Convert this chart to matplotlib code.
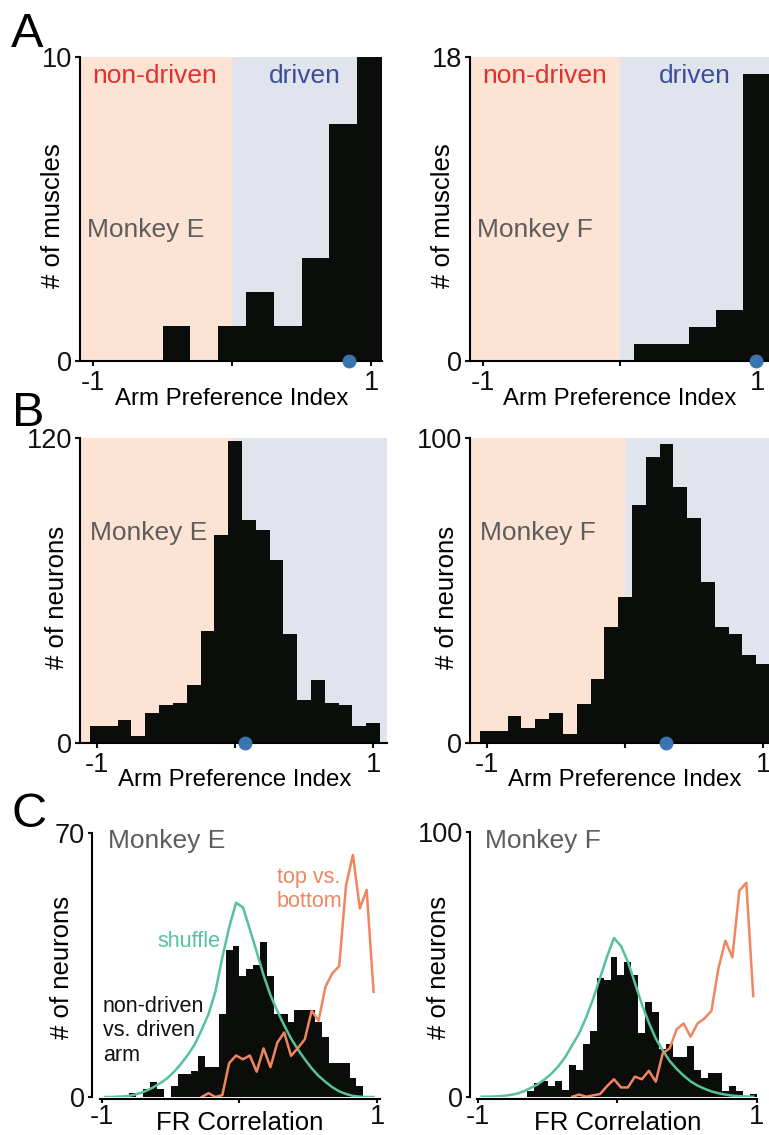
import matplotlib
matplotlib.use('Agg')
import matplotlib.pyplot as plt
import numpy as np

plt.rcParams['font.family'] = ['Liberation Sans', 'DejaVu Sans']

# ---- data ----
# A: muscles, bins of 0.2 centred on -1.0 ... 1.0
a_centers = np.linspace(-1, 1, 11)
a_e_counts = [0, 0, 0, 1.14, 0, 1.14, 2.25, 1.14, 3.37, 7.8, 10]
a_f_counts = [0, 0, 0, 0, 0, 0, 1, 1, 2, 3, 17]
a_e_median = 0.84
a_f_median = 0.99

# B: neurons, bins of 0.1 centred on -1.0 ... 1.0
b_centers = np.linspace(-1, 1, 21)
b_e_counts = [7, 7, 9, 3, 12, 15, 16, 23, 44, 82, 119, 88, 84, 72, 43, 17, 25, 16, 15, 7, 8]
b_f_counts = [4, 4, 9, 5, 8, 10, 3, 13, 21, 38, 48, 78, 94, 98, 84, 74, 53, 38, 36, 29, 26]
b_e_median = 0.07
b_f_median = 0.30

# C: FR correlation, bins of 0.05 from -1 to 1
c_edges = np.linspace(-1, 1, 41)
c_e_counts = [0, 0, 0, 0, 1, 0, 2, 4, 2, 0, 3, 6, 6, 7, 11, 8, 8, 22, 39, 40,
              32, 34, 35, 41, 32, 22, 22, 20, 23, 23, 23, 20, 16, 9, 9, 9, 5, 3, 0, 0]
c_f_counts = [0, 0, 0, 0, 0, 0, 0, 2, 5, 6, 4, 6, 2.5, 12, 10, 20, 25, 45, 44, 53,
              46, 51, 46, 24, 36, 32, 18, 20, 15, 15, 19, 10, 7, 9, 9, 2, 4, 2, 0, 1]
c_e_shuffle = [0, 0, 0.1, 0.2, 0.5, 1.0, 1.7, 2.6, 3.7, 5.0, 6.7, 8.8, 11.2, 14, 17.8, 22, 28, 37, 45, 51.5,
               50.3, 44.5, 38.5, 32.3, 27, 22.8, 19, 15.5, 12.6, 10, 7.6, 5.6, 4, 2.6, 1.5, 0.8, 0.3, 0.1, 0, 0]
c_f_shuffle = [0, 0, 0.1, 0.3, 0.6, 1.1, 2.0, 3.3, 4.6, 6.5, 8.7, 11.5, 15, 19.5, 24, 30, 37, 45, 53, 60,
               57, 51, 43, 35, 28, 22, 17.5, 13.5, 10.5, 8, 5.8, 4.2, 3, 2, 1.3, 0.8, 0.4, 0.2, 0.1, 0]
# top vs bottom, starting at bin index given
c_e_top_start = 14
c_e_top = [0, 1, 0, 0.5, 9, 11, 10, 11, 6.7, 12.9, 7.9, 14.4, 17.1, 10.9, 13, 15.3,
           22.9, 20.2, 29.2, 32.8, 34.7, 56.2, 64.2, 50, 54.9, 27.9]
c_f_top_start = 13
c_f_top = [0, 0.8, 0, 0.5, 1, 4, 6.6, 3.5, 3.5, 7.6, 6.6, 9.8, 5.7, 16.4, 18.3, 25.5, 27.7,
           22.7, 27.7, 29.6, 32.5, 48.6, 59, 52.7, 77.9, 80.9, 38.1]

# ---- colours ----
PEACH = '#FCE3D4'
BLUEGRAY = '#E1E4EC'
BAR = '#0B0D0A'
RED = '#E2302B'
BLUE = '#3A4F9C'
DOT = '#3A75B0'
GRAY = '#5D5D5D'
GREEN = '#56C29B'
ORANGE = '#F08560'

W, H = 769, 1135
fig = plt.figure(figsize=(W / 100, H / 100), dpi=100)


def px_box(x0, y0, x1, y1):
    return [x0 / W, 1 - y1 / H, (x1 - x0) / W, (y1 - y0) / H]


def ftext(x, y, s, **kw):
    fig.text(x / W, 1 - y / H, s, **kw)


def style(ax, xlim, ytop, tick_len=3.5, pad=3.0):
    ax.set_xlim(xlim)
    ax.set_ylim(0, ytop)
    for s in ['top', 'right']:
        ax.spines[s].set_visible(False)
    for s in ['left', 'bottom']:
        ax.spines[s].set_linewidth(1.5)
    ax.set_xticks([-1, 0, 1])
    ax.set_xticklabels(['-1', '', '1'])
    ax.set_yticks([0, ytop])
    ax.set_yticklabels(['0', str(ytop)])
    ax.tick_params(direction='out', length=tick_len, width=1.5, labelsize=19.5,
                   pad=pad, colors='#111111')
    ax.tick_params(axis='y', pad=2)


def shade(ax, xlim):
    ax.axvspan(xlim[0], 0, color=PEACH, lw=0, zorder=0)
    ax.axvspan(0, xlim[1], color=BLUEGRAY, lw=0, zorder=0)


# ---- A ----
a_panels = [
    (px_box(80, 57, 382, 360.7), (-1.0935, 1.079), a_e_counts, 10, a_e_median, 'Monkey E', 80),
    (px_box(470, 57, 772, 360.7), (-1.095, 1.109), a_f_counts, 18, a_f_median, 'Monkey F', 470),
]
for box, xlim, counts, ytop, med, name, x0 in a_panels:
    ax = fig.add_axes(box)
    shade(ax, xlim)
    ax.bar(a_centers, counts, width=0.2, color=BAR, lw=0, zorder=2)
    ax.plot([med], [0], 'o', ms=9, color=DOT, clip_on=False, zorder=5)
    style(ax, xlim, ytop)
    ftext(x0 + 12, 83, 'non-driven', color=RED, fontsize=19, va='baseline')
    ftext(x0 + 189, 83, 'driven', color=BLUE, fontsize=19, va='baseline')
    ftext(x0 + 7, 237, name, color=GRAY, fontsize=19, va='baseline')
    ftext(x0 - 26.5, 216, '# of muscles', fontsize=18.5, rotation=90, ha='center', va='center')
    ax.text(0, (360.7 - 405) / 303.7, 'Arm Preference Index', transform=ax.get_xaxis_transform(),
            ha='center', va='baseline', fontsize=17.3)

# ---- B ----
b_panels = [
    (px_box(80, 438.3, 387, 743.3), b_e_counts, 120, b_e_median, 'Monkey E', 80),
    (px_box(470, 438.3, 777, 743.3), b_f_counts, 100, b_f_median, 'Monkey F', 470),
]
bxlim = (-1.123, 1.101)
for box, counts, ytop, med, name, x0 in b_panels:
    ax = fig.add_axes(box)
    shade(ax, bxlim)
    ax.bar(b_centers, counts, width=0.1, color=BAR, lw=0, zorder=2)
    ax.plot([med], [0], 'o', ms=9, color=DOT, clip_on=False, zorder=5)
    style(ax, bxlim, ytop)
    ftext(x0 + 10, 540, name, color=GRAY, fontsize=19, va='baseline')
    ftext(x0 - 23, 597.5, '# of neurons', fontsize=18.5, rotation=90, ha='center', va='center')
    ax.text(0, (743.3 - 786.5) / 305, 'Arm Preference Index', transform=ax.get_xaxis_transform(),
            ha='center', va='baseline', fontsize=17.3)

# ---- C ----
c_panels = [
    (px_box(100, 833, 380, 1097), (-1.0145, 1.0218), 70, c_e_counts, c_e_shuffle,
     c_e_top_start, c_e_top, 'Monkey E', 100, 8),
    (px_box(477, 832.3, 757, 1096.7), (-1.009, 1.002), 100, c_f_counts, c_f_shuffle,
     c_f_top_start, c_f_top, 'Monkey F', 477, 7),
]
c_centers = c_edges[:-1] + 0.025
for box, xlim, ytop, counts, shuf, tstart, top, name, x0, off in c_panels:
    ax = fig.add_axes(box)
    ax.bar(c_edges[:-1], counts, width=0.05, align='edge', color=BAR, lw=0, zorder=2)
    ax.plot(c_centers, shuf, color=GREEN, lw=1.8, zorder=3)
    ax.plot(c_centers[tstart:tstart + len(top)], top, color=ORANGE, lw=1.8, zorder=4)
    style(ax, xlim, ytop, tick_len=3.0, pad=0.8)
    ax.spines['left'].set_position(('outward', off * 0.72))
    ax.spines['bottom'].set_position(('outward', 1.5))
    ftext(x0 + 8, 848, name, color=GRAY, fontsize=19, va='baseline')
    ftext(x0 - 38, 967.5, '# of neurons', fontsize=18.5, rotation=90, ha='center', va='center')
    ax.text(0, (1097 - 1130.5) / 264, 'FR Correlation', transform=ax.get_xaxis_transform(),
            ha='center', va='baseline', fontsize=18.5)

ftext(157, 946.7, 'shuffle', color=GREEN, fontsize=15.5, va='baseline')
for txt, yb in zip(['top vs.', 'bottom'], [883, 907]):
    ftext(277, yb, txt, color=ORANGE, fontsize=15.5, va='baseline')
for txt, yb in zip(['non-driven', 'vs. driven', 'arm'], [1012, 1036.5, 1061]):
    ftext(103, yb, txt, color='#111111', fontsize=15.5, va='baseline')

# panel letters
ftext(11, 47, 'A', fontsize=35, va='baseline')
ftext(12, 426, 'B', fontsize=35, va='baseline')
ftext(12, 827, 'C', fontsize=35, va='baseline')

fig.savefig('out.png', dpi=100)
